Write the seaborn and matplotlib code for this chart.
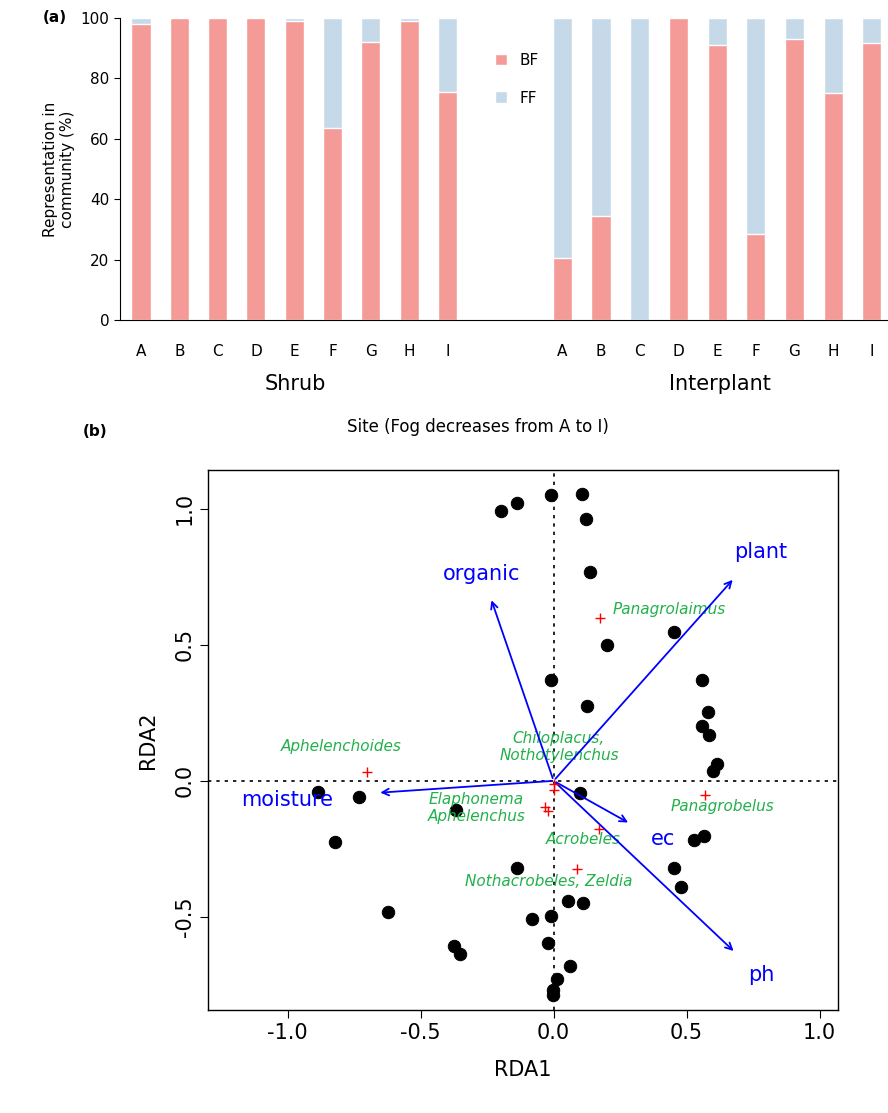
import numpy as np
import pandas as pd
import matplotlib
matplotlib.use("Agg")
import matplotlib.pyplot as plt
import seaborn as sns

# panel (a) data
sites = ["A", "B", "C", "D", "E", "F", "G", "H", "I"]
shrub_bf = [98, 100, 100, 100, 99, 63.5, 92, 99, 75.5]
inter_bf = [20.5, 34.5, 0, 100, 91, 28.5, 93, 75, 91.5]

# panel (b) data: site scores
site_x = [0.105, -0.011, -0.139, -0.199, 0.120, 0.135, 0.451, 0.199, -0.011, 0.556,
          0.579, 0.556, 0.124, 0.583, 0.613, 0.598, -0.887, -0.733, 0.098, -0.820,
          -0.368, 0.564, 0.526, -0.139, 0.451, 0.477, 0.053, 0.109, -0.624, -0.011,
          -0.083, -0.023, -0.376, -0.353, 0.060, 0.011, -0.004, -0.004]
site_y = [1.055, 1.051, 1.022, 0.993, 0.963, 0.768, 0.548, 0.500, 0.371, 0.371,
          0.254, 0.202, 0.276, 0.169, 0.062, 0.037, -0.040, -0.059, -0.044, -0.224,
          -0.107, -0.202, -0.217, -0.320, -0.320, -0.390, -0.441, -0.449, -0.482, -0.496,
          -0.507, -0.596, -0.607, -0.636, -0.680, -0.728, -0.768, -0.787]

# species scores
sp_x = [0.173, -0.703, 0.0, 0.0, -0.034, -0.023, 0.169, 0.086, 0.568]
sp_y = [0.600, 0.033, -0.01, -0.033, -0.096, -0.110, -0.176, -0.324, -0.051]
sp_labels = ["Panagrolaimus", "Aphelenchoides", "Chiloplacus,\nNothotylenchus",
             "Elaphonema\nAphelenchus", "Panagrobelus", "Acrobeles", "Nothacrobeles, Zeldia"]
sp_label_xy = [(0.22, 0.63, "left"), (-0.80, 0.125, "center"), (0.02, 0.125, "center"),
               (-0.29, -0.10, "center"), (0.635, -0.095, "center"), (0.11, -0.215, "center"),
               (-0.02, -0.37, "center")]

# environmental vectors
env_names = ["plant", "organic", "moisture", "ec", "ph"]
env_x = [0.68, -0.237, -0.662, 0.289, 0.684]
env_y = [0.746, 0.673, -0.044, -0.158, -0.632]
env_label_xy = [(0.78, 0.84), (-0.27, 0.76), (-1.00, -0.070), (0.41, -0.215), (0.78, -0.715)]

sns.set_style("white")
plt.rcParams["font.family"] = ["DejaVu Sans"]
plt.rcParams["axes.unicode_minus"] = False
plt.rcParams["text.color"] = "black"
plt.rcParams["axes.labelcolor"] = "black"
plt.rcParams["xtick.color"] = "black"
plt.rcParams["ytick.color"] = "black"

fig = plt.figure(figsize=(8.88, 11.13), dpi=100)

# ---- (a) stacked bars
ax1 = fig.add_axes([0.135, 0.7125, 0.865, 0.2715])
df = pd.DataFrame({
    "pos": list(range(9)) + [11 + 1.01 * i for i in range(9)],
    "BF": shrub_bf + inter_bf,
})
ax1.bar(df["pos"], 100, width=0.5, color="#C5D9E8", label="FF")
ax1.bar(df["pos"], df["BF"], width=0.5, color="#F49B98", label="BF")
ax1.set_xlim(-0.55, 19.5)
ax1.set_ylim(0, 100)
ax1.set_yticks(range(0, 101, 20))
ax1.set_xticks(df["pos"])
ax1.set_xticklabels(sites + sites, fontsize=11)
ax1.tick_params(axis="y", labelsize=11, left=True, length=4)
ax1.tick_params(axis="x", pad=14)
ax1.set_ylabel("Representation in\ncommunity (%)", fontsize=11)
for s in ["top", "right"]:
    ax1.spines[s].set_visible(False)
ax1.spines["left"].set_color("black")
ax1.spines["bottom"].set_color("black")
h, l = ax1.get_legend_handles_labels()
ax1.legend(h[::-1], l[::-1], loc="upper left", bbox_to_anchor=(0.47, 0.93), frameon=False,
           fontsize=11, handlelength=0.8, handleheight=0.8, labelspacing=1.5)

fig.text(0.062, 0.984, "(a)", fontsize=11, fontweight="bold", ha="center", va="center")
fig.text(0.332, 0.655, "Shrub", fontsize=15, ha="center", va="center")
fig.text(0.811, 0.655, "Interplant", fontsize=15, ha="center", va="center")
fig.text(0.538, 0.616, "Site (Fog decreases from A to I)", fontsize=12, ha="center", va="center")
fig.text(0.107, 0.612, "(b)", fontsize=11, fontweight="bold", ha="center", va="center")

# ---- (b) RDA biplot
ax2 = fig.add_axes([0.234, 0.0925, 0.71, 0.4855])
sns.scatterplot(x=site_x, y=site_y, color="black", s=80, edgecolor="black", ax=ax2, zorder=3)
ax2.scatter(sp_x, sp_y, marker="+", color="red", s=45, linewidths=1, zorder=4)
ax2.axhline(0, color="black", linestyle=(0, (2, 3)), linewidth=1.2)
ax2.axvline(0, color="black", linestyle=(0, (2, 3)), linewidth=1.2)
for lab, (tx, ty, ha) in zip(sp_labels, sp_label_xy):
    ax2.text(tx, ty, lab, color="#22B04B", fontsize=11, style="italic", ha=ha, va="center",
             linespacing=1.2)
for name, ex, ey, (lx, ly) in zip(env_names, env_x, env_y, env_label_xy):
    ax2.annotate("", xy=(ex, ey), xytext=(0, 0),
                 arrowprops=dict(arrowstyle="->", color="blue", lw=1.3, mutation_scale=12))
    ax2.text(lx, ly, name, color="blue", fontsize=15, ha="center", va="center")
ax2.set_xlim(-1.30, 1.07)
ax2.set_ylim(-0.842, 1.143)
ax2.set_xticks([-1.0, -0.5, 0.0, 0.5, 1.0])
ax2.set_yticks([-0.5, 0.0, 0.5, 1.0])
ax2.tick_params(axis="both", labelsize=15, bottom=True, left=True, length=6)
ax2.tick_params(axis="y", labelrotation=90)
for t in ax2.get_yticklabels():
    t.set_va("center")
ax2.set_xlabel("RDA1", fontsize=15, labelpad=12)
ax2.set_ylabel("RDA2", fontsize=15, labelpad=12)
for s in ax2.spines.values():
    s.set_color("black")
    s.set_linewidth(1)

fig.savefig("out.png", dpi=100)
